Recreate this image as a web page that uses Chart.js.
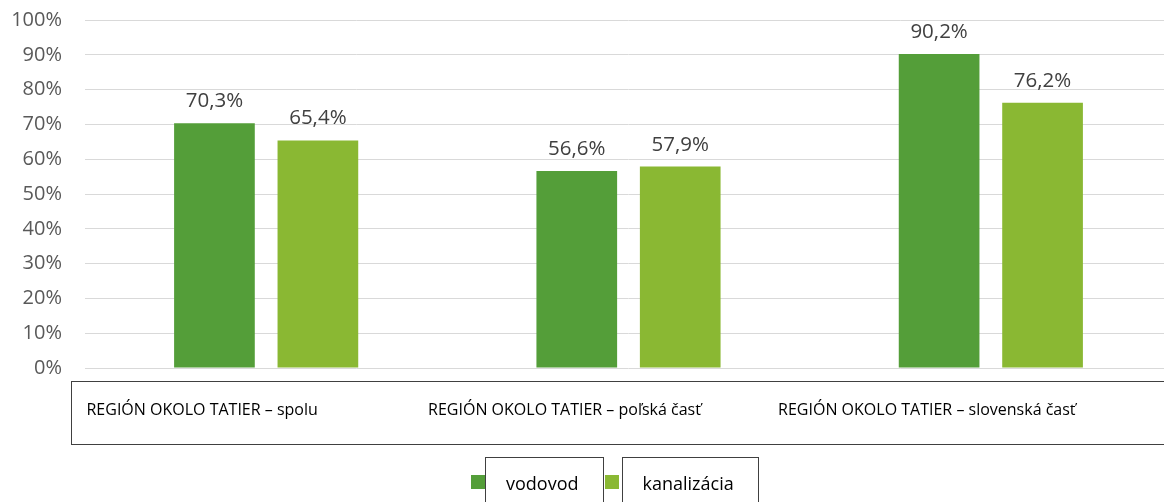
<!DOCTYPE html>
<html>
<head>
<meta charset="utf-8">
<script src="https://cdn.jsdelivr.net/npm/chart.js@4"></script>
<style>
    html, body { margin: 0; padding: 0; background: #fff; overflow: hidden; }
    #obal { position: relative; width: 1164px; height: 502px; overflow: hidden; }
    #graf { position: absolute; left: 0; top: 0; }
    #legenda { position: absolute; left: 471px; top: 457px; display: flex; font-family: "Open Sans", sans-serif; font-size: 18px; color: #000; }
    .polozka { display: flex; align-items: flex-start; }
    .stvorec { width: 14px; height: 14px; margin-top: 18px; }
    .ramik { border: 1px solid #404040; height: 60px; padding: 13px 24px 0 20px; box-sizing: border-box; line-height: 24px; }
</style>
</head>
<body>
<div id="obal">
    <canvas id="graf" width="1175" height="502"></canvas>
    <div id="legenda"></div>
</div>
<script>
var kategorie = ['REGIÓN OKOLO TATIER – spolu', 'REGIÓN OKOLO TATIER – poľská časť', 'REGIÓN OKOLO TATIER – slovenská časť'];
var vodovod = [70.3, 56.6, 90.2];
var kanalizacia = [65.4, 57.9, 76.2];
var nazvySerii = ['vodovod', 'kanalizácia'];
var farby = ['#549E39', '#8AB833'];
var osY = [0, 10, 20, 30, 40, 50, 60, 70, 80, 90, 100];

function formatPercent(v) {
    return v.toFixed(1).replace('.', ',') + '%';
}

// popisky nad stlpcami
var popiskyPlugin = {
    id: 'popisky',
    afterDatasetsDraw: function (chart) {
        var ctx = chart.ctx;
        ctx.save();
        ctx.font = '20.5px "Open Sans"';
        ctx.fillStyle = '#404040';
        ctx.textAlign = 'center';
        ctx.textBaseline = 'alphabetic';
        chart.data.datasets.forEach(function (ds, i) {
            chart.getDatasetMeta(i).data.forEach(function (bar, j) {
                ctx.fillText(formatPercent(ds.data[j]), bar.x, bar.y - 16);
            });
        });
        ctx.restore();
    }
};

// ramik okolo kategorii
var ramikPlugin = {
    id: 'ramik',
    afterDraw: function (chart) {
        var a = chart.chartArea;
        var ctx = chart.ctx;
        ctx.save();
        ctx.strokeStyle = '#404040';
        ctx.lineWidth = 1;
        ctx.strokeRect(a.left - 14 + 0.5, a.bottom + 13.5, chart.width, 63);
        ctx.restore();
    }
};

var ctx = document.getElementById('graf').getContext('2d');
var graf = new Chart(ctx, {
    type: 'bar',
    data: {
        labels: kategorie,
        datasets: [{
            label: nazvySerii[0],
            data: vodovod,
            backgroundColor: farby[0],
            barPercentage: 0.78,
            categoryPercentage: 0.571
        }, {
            label: nazvySerii[1],
            data: kanalizacia,
            backgroundColor: farby[1],
            barPercentage: 0.78,
            categoryPercentage: 0.571
        }]
    },
    options: {
        responsive: false,
        animation: false,
        layout: { padding: { top: 20, right: 3, bottom: 58, left: 0 } },
        plugins: {
            legend: { display: false },
            tooltip: { enabled: false }
        },
        scales: {
            x: {
                grid: { display: false, drawTicks: false },
                border: { display: false },
                ticks: {
                    color: '#000',
                    font: { family: 'Open Sans', size: 16 },
                    padding: 33,
                    labelOffset: -64,
                    maxRotation: 0,
                    autoSkip: false
                },
                afterFit: function (scale) { scale.height = 76; }
            },
            y: {
                min: 0,
                max: 100,
                afterBuildTicks: function (scale) {
                    scale.ticks = osY.map(function (v) { return { value: v }; });
                },
                grid: { color: '#D9D9D9', lineWidth: 1, drawTicks: false },
                border: { display: false },
                ticks: {
                    color: '#595959',
                    font: { family: 'Open Sans', size: 20 },
                    padding: 23,
                    callback: function (v) { return v + '%'; }
                },
                afterFit: function (scale) {
                    scale.width = 85;
                    scale.paddingTop = 0;
                    scale.paddingBottom = 0;
                }
            }
        }
    },
    plugins: [popiskyPlugin, ramikPlugin]
});

// legenda s ramikmi
var legenda = document.getElementById('legenda');
nazvySerii.forEach(function (n, i) {
    var p = document.createElement('div');
    p.className = 'polozka';
    var s = document.createElement('div');
    s.className = 'stvorec';
    s.style.background = farby[i];
    s.style.marginLeft = i === 0 ? '0' : '1px';
    s.style.marginRight = i === 0 ? '0' : '3px';
    var r = document.createElement('div');
    r.className = 'ramik';
    r.textContent = n;
    p.appendChild(s);
    p.appendChild(r);
    legenda.appendChild(p);
});
</script>
</body>
</html>
